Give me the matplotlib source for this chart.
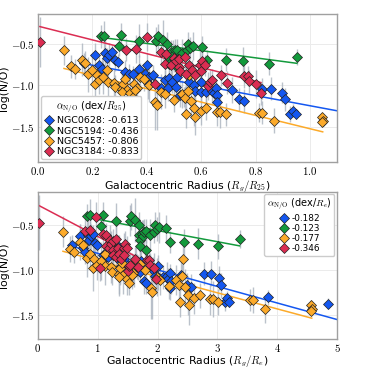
import matplotlib
matplotlib.use("Agg")
import matplotlib.pyplot as plt
from matplotlib.ticker import FuncFormatter, MultipleLocator
import numpy as np

plt.rcParams['mathtext.fontset'] = 'cm'
plt.rcParams['font.family'] = ['DejaVu Sans']

galaxies = ["NGC0628", "NGC5194", "NGC5457", "NGC3184"]
colors = ["#1457f0", "#139a3c", "#fcaa2a", "#db2d52"]
slopes_r25 = [-0.613, -0.436, -0.806, -0.833]
slopes_re = [-0.182, -0.123, -0.177, -0.346]
intercepts = [-0.635, -0.32, -0.72, -0.285]
r25_over_re = [3.37, 3.54, 4.37, 2.41]
fit_lo_r25 = [0.171, 0.253, 0.096, 0.007]
fit_hi_r25 = [1.485, 0.952, 1.047, 0.82]

# NGC0628
x_0628 = [0.171, 0.210, 0.223, 0.235, 0.247, 0.253, 0.262, 0.274, 0.284, 0.293,
          0.321, 0.336, 0.348, 0.370, 0.395, 0.401, 0.407, 0.405, 0.425, 0.454,
          0.466, 0.477, 0.481, 0.493, 0.506, 0.512, 0.524, 0.536, 0.557, 0.573,
          0.579, 0.598, 0.598, 0.619, 0.641, 0.647, 0.653, 0.659, 0.657, 0.712,
          0.739, 0.757, 0.823, 0.856, 0.897, 0.909, 0.926, 0.939, 0.948, 1.14, 1.44]
y_0628 = [-0.73, -0.63, -0.76, -0.80, -0.61, -0.67, -0.63, -0.60, -0.70, -0.72,
          -0.84, -0.86, -0.86, -0.80, -0.87, -0.75, -0.90, -0.97, -0.88, -1.03,
          -0.94, -1.03, -0.91, -0.96, -1.02, -0.90, -1.12, -1.14, -0.96, -1.00,
          -1.07, -0.96, -1.08, -1.08, -1.07, -1.10, -1.03, -1.12, -1.20, -1.06,
          -1.17, -1.19, -1.04, -1.04, -1.09, -1.17, -1.35, -1.31, -1.35, -1.30, -1.37]
e_0628 = [0.12, 0.14, 0.10, 0.13, 0.16, 0.12, 0.14, 0.09, 0.13, 0.10,
          0.14, 0.12, 0.09, 0.16, 0.13, 0.14, 0.10, 0.20, 0.12, 0.14,
          0.13, 0.16, 0.10, 0.14, 0.12, 0.16, 0.14, 0.12, 0.13, 0.14,
          0.10, 0.12, 0.14, 0.13, 0.16, 0.12, 0.10, 0.14, 0.13, 0.16,
          0.14, 0.15, 0.13, 0.14, 0.13, 0.14, 0.10, 0.08, 0.06, 0.08, 0.06]

# NGC5194
x_5194 = [0.231, 0.244, 0.300, 0.306, 0.370, 0.434, 0.441, 0.459, 0.475, 0.475,
          0.481, 0.481, 0.490, 0.496, 0.503, 0.512, 0.512, 0.530, 0.549, 0.552,
          0.560, 0.571, 0.604, 0.622, 0.690, 0.754, 0.848, 0.952]
y_5194 = [-0.41, -0.40, -0.52, -0.39, -0.46, -0.46, -0.41, -0.45, -0.50, -0.62,
          -0.67, -0.74, -0.60, -0.63, -0.58, -0.57, -0.78, -0.61, -0.58, -0.50,
          -0.55, -0.53, -0.54, -0.69, -0.69, -0.71, -0.74, -0.66]
e_5194 = [0.14, 0.18, 0.13, 0.14, 0.20, 0.17, 0.15, 0.24, 0.14, 0.17,
          0.13, 0.14, 0.15, 0.18, 0.14, 0.13, 0.14, 0.17, 0.12, 0.14,
          0.13, 0.17, 0.14, 0.12, 0.14, 0.17, 0.14, 0.10]

# NGC5457
x_5457 = [0.096, 0.122, 0.137, 0.162, 0.173, 0.186, 0.200, 0.210, 0.216, 0.225,
          0.241, 0.255, 0.257, 0.278, 0.284, 0.310, 0.314, 0.321, 0.327, 0.353,
          0.364, 0.311, 0.339, 0.348, 0.358, 0.376, 0.390, 0.410, 0.432, 0.438,
          0.454, 0.466, 0.500, 0.530, 0.540, 0.552, 0.554, 0.564, 0.545, 0.573,
          0.577, 0.598, 0.619, 0.659, 0.668, 0.690, 0.811, 0.823, 0.868, 1.044,
          1.047, 1.044]
y_5457 = [-0.58, -0.77, -0.80, -0.69, -0.73, -0.87, -0.82, -0.98, -0.88, -0.94,
          -0.90, -0.82, -0.96, -0.97, -1.02, -1.04, -0.98, -0.92, -1.06, -0.98,
          -1.03, -1.08, -1.10, -1.14, -1.06, -0.90, -0.93, -1.00, -1.20, -1.24,
          -1.08, -1.11, -1.18, -1.11, -1.16, -1.07, -0.88, -1.19, -1.35, -1.28,
          -1.38, -1.31, -1.28, -1.32, -1.32, -1.35, -1.33, -1.33, -1.43, -1.39,
          -1.43, -1.45]
e_5457 = [0.17, 0.14, 0.12, 0.20, 0.14, 0.21, 0.17, 0.25, 0.14, 0.17,
          0.21, 0.14, 0.20, 0.17, 0.14, 0.22, 0.17, 0.14, 0.20, 0.17,
          0.14, 0.21, 0.17, 0.14, 0.15, 0.17, 0.14, 0.20, 0.34, 0.30,
          0.21, 0.17, 0.14, 0.17, 0.15, 0.14, 0.17, 0.20, 0.17, 0.21,
          0.22, 0.17, 0.14, 0.17, 0.20, 0.14, 0.12, 0.14, 0.15, 0.06,
          0.06, 0.06]

# NGC3184
x_3184 = [0.007, 0.324, 0.360, 0.401, 0.432, 0.454, 0.469, 0.470, 0.491, 0.500,
          0.506, 0.518, 0.520, 0.524, 0.540, 0.543, 0.555, 0.565, 0.579, 0.595,
          0.600, 0.602, 0.616, 0.625, 0.631, 0.641, 0.672, 0.696, 0.757, 0.772,
          0.776, 0.803, 0.819]
y_3184 = [-0.48, -0.57, -0.56, -0.42, -0.98, -0.60, -0.74, -0.62, -0.76, -0.67,
          -0.71, -0.78, -0.68, -0.83, -0.66, -0.86, -0.76, -0.82, -0.88, -0.76,
          -0.83, -0.71, -0.76, -1.01, -0.96, -0.94, -0.88, -0.97, -0.89, -0.89,
          -0.95, -0.98, -1.10]
e_3184 = [0.30, 0.14, 0.17, 0.17, 0.14, 0.14, 0.17, 0.14, 0.14, 0.17,
          0.14, 0.17, 0.13, 0.14, 0.14, 0.17, 0.14, 0.13, 0.14, 0.17,
          0.14, 0.14, 0.13, 0.17, 0.14, 0.14, 0.13, 0.14, 0.14, 0.12,
          0.14, 0.17, 0.14]

xs = [x_0628, x_5194, x_5457, x_3184]
ys = [y_0628, y_5194, y_5457, y_3184]
es = [e_0628, e_5194, e_5457, e_3184]

fig = plt.figure(figsize=(3.75, 3.71), dpi=100)
ax1 = fig.add_axes([0.101, 0.563, 0.798, 0.399])
ax2 = fig.add_axes([0.101, 0.086, 0.798, 0.397])

def style(ax):
    ax.set_facecolor("white")
    ax.grid(True, color="#ebebeb", lw=0.7, zorder=0)
    ax.set_axisbelow(True)
    for s in ax.spines.values():
        s.set_color("#a0a0a0")
        s.set_linewidth(1.0)
    ax.tick_params(length=0, labelsize=7.8, pad=2)
    ax.yaxis.set_major_locator(MultipleLocator(0.5))
    ax.yaxis.set_major_formatter(FuncFormatter(lambda v, p: r"$%.1f$" % v))

for ax, unit in [(ax1, "r25"), (ax2, "re")]:
    style(ax)
    for i in range(4):
        f = 1.0 if unit == "r25" else r25_over_re[i]
        slope = slopes_r25[i] if unit == "r25" else slopes_re[i]
        x = np.array(xs[i]) * f
        y = np.array(ys[i])
        e = np.array(es[i])
        ax.errorbar(x, y, yerr=e, fmt="none", ecolor="#aab3bf", elinewidth=1.0,
                    alpha=0.8, zorder=1)
        lx = np.array([fit_lo_r25[i], fit_hi_r25[i]]) * f
        ax.plot(lx, intercepts[i] + slope * lx, color=colors[i], lw=1.1, zorder=2)
    for i in range(4):
        f = 1.0 if unit == "r25" else r25_over_re[i]
        lab = ("%s: %.3f" % (galaxies[i], slopes_r25[i])) if unit == "r25" else ("%.3f" % slopes_re[i])
        ax.plot(np.array(xs[i]) * f, ys[i], "D", color=colors[i], mec="#222222",
                mew=0.5, ms=4.8, zorder=3, label=lab, linestyle="none")
    ax.set_ylabel("log(N/O)", fontsize=7.8)
    ax.yaxis.set_label_coords(-0.095, 0.5)

ax1.set_xlim(0, 1.1)
ax1.set_ylim(-1.93, -0.14)
ax1.xaxis.set_major_locator(MultipleLocator(0.2))
ax1.xaxis.set_major_formatter(FuncFormatter(lambda v, p: r"$%.1f$" % v))
ax1.set_xlabel(r"Galactocentric Radius ($R_g/R_{25}$)", fontsize=7.8)
ax1.xaxis.set_label_coords(0.5, -0.11)
leg1 = ax1.legend(loc="lower left", title=r"$\alpha_{\rm N/O}$ (dex/$R_{25}$)",
                  fontsize=6.8, title_fontsize=7.2, handletextpad=0.2, handlelength=1.2,
                  borderpad=0.3, labelspacing=0.15, framealpha=1, edgecolor="#cccccc",
                  borderaxespad=0.3)

ax2.set_xlim(0, 5)
ax2.set_ylim(-1.76, -0.14)
ax2.xaxis.set_major_locator(MultipleLocator(1))
ax2.xaxis.set_major_formatter(FuncFormatter(lambda v, p: r"$%d$" % round(v)))
ax2.set_xlabel(r"Galactocentric Radius ($R_g/R_{e}$)", fontsize=7.8)
ax2.xaxis.set_label_coords(0.5, -0.098)
leg2 = ax2.legend(loc="upper right", title=r"$\alpha_{\rm N/O}$ (dex/$R_{e}$)",
                  fontsize=6.4, title_fontsize=7.0, handletextpad=0.2, handlelength=1.2,
                  borderpad=0.3, labelspacing=0.1, framealpha=1, edgecolor="#cccccc",
                  borderaxespad=0.3)

fig.savefig("out.png", dpi=100, facecolor="white")
